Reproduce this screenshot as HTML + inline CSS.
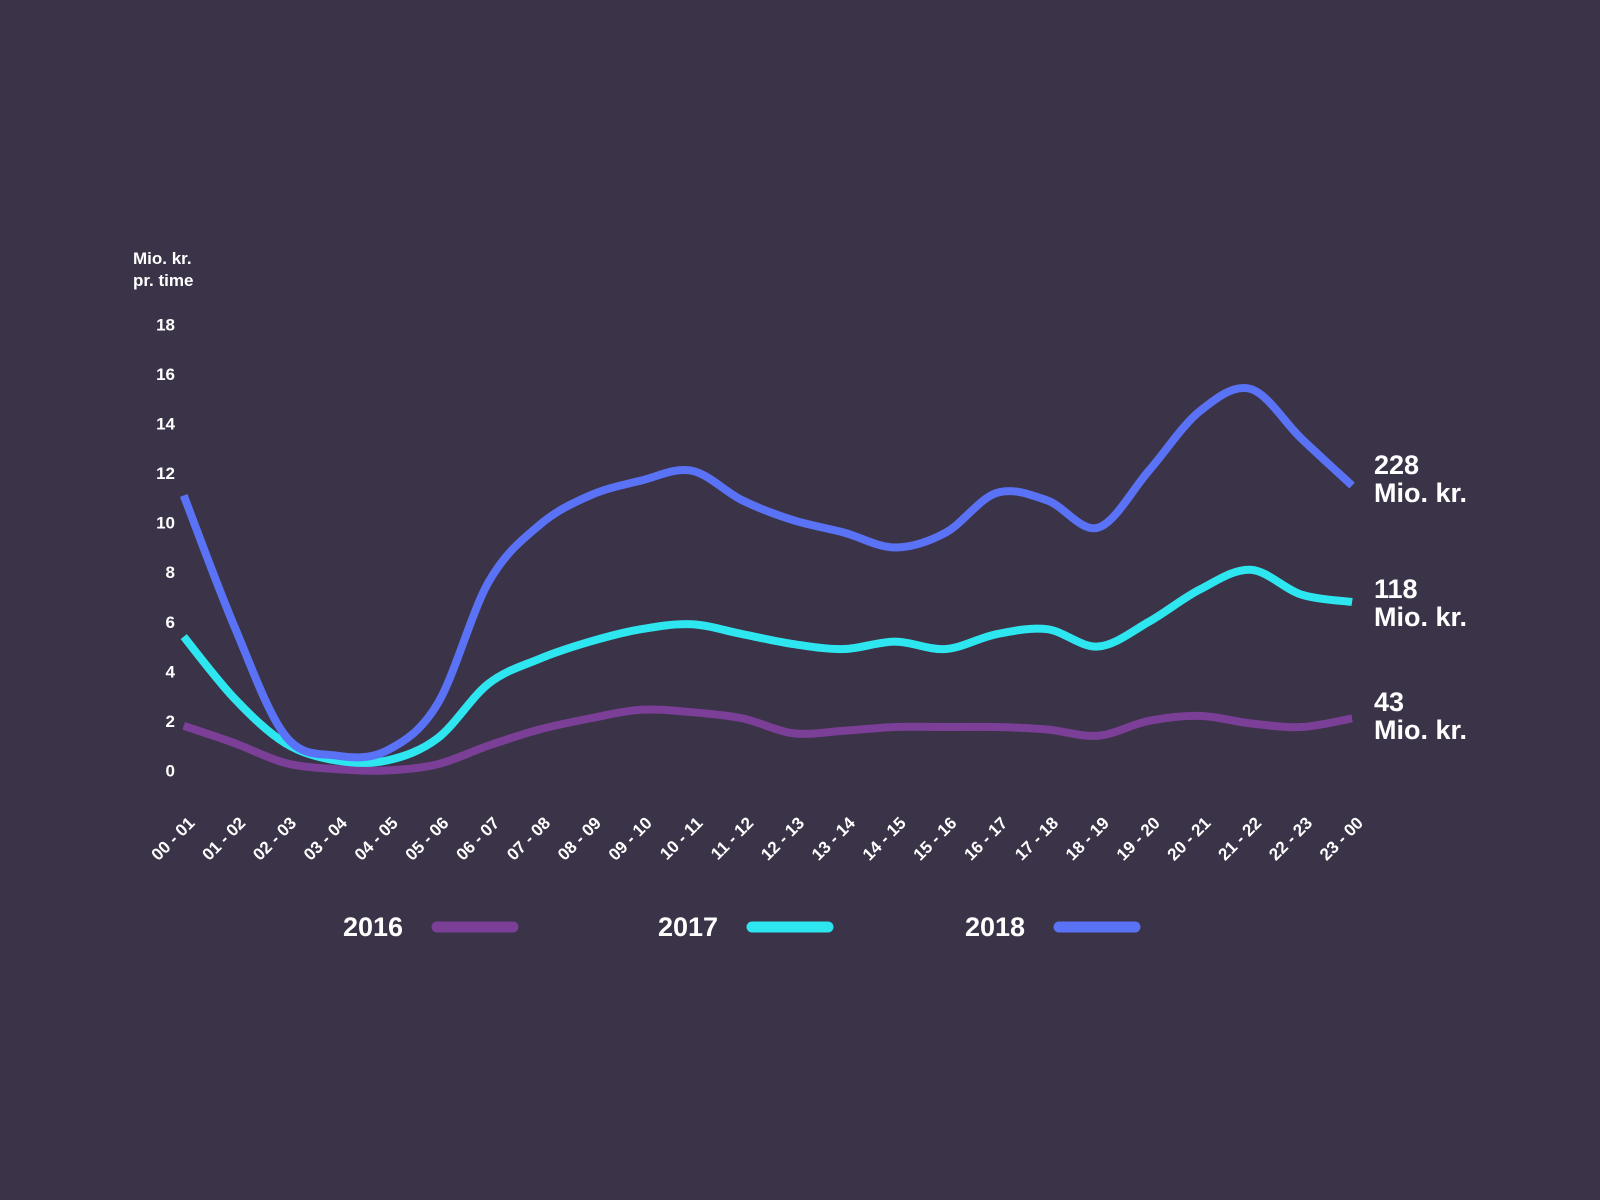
<!DOCTYPE html>
<html><head><meta charset="utf-8"><style>
html,body{margin:0;padding:0;background:#3b3347;}
svg{display:block;font-family:"Liberation Sans",sans-serif;}
</style></head><body>
<svg id="chart" width="1600" height="1200" viewBox="0 0 1600 1200">
<rect width="1600" height="1200" fill="#3b3347"/>
<g id="yaxis"></g>
<g id="xaxis"></g>
<g id="lines"></g>
<text x="133" y="264" fill="#fff" font-size="17" font-weight="bold"><tspan x="133">Mio. kr.</tspan><tspan x="133" dy="22">pr. time</tspan></text>
<g fill="#fff" font-weight="bold" font-size="27">
<text x="1374" y="474">228</text>
<text x="1374" y="502">Mio. kr.</text>
<text x="1374" y="598">118</text>
<text x="1374" y="626">Mio. kr.</text>
<text x="1374" y="711">43</text>
<text x="1374" y="739">Mio. kr.</text>
</g>
<g font-size="27" font-weight="bold" fill="#fff">
<g><text x="343" y="936">2016</text><line x1="437" y1="927" x2="513" y2="927" stroke="#7b3f98" stroke-width="11" stroke-linecap="round"/></g>
<g><text x="658" y="936">2017</text><line x1="752" y1="927" x2="828" y2="927" stroke="#2ee6f0" stroke-width="11" stroke-linecap="round"/></g>
<g><text x="965" y="936">2018</text><line x1="1059" y1="927" x2="1135" y2="927" stroke="#5a72f5" stroke-width="11" stroke-linecap="round"/></g>
</g>
</svg>
<script>
const categories=["00-01","01-02","02-03","03-04","04-05","05-06","06-07","07-08","08-09","09-10","10-11","11-12","12-13","13-14","14-15","15-16","16-17","17-18","18-19","19-20","20-21","21-22","22-23","23-00"];
const yTicks=[0,2,4,6,8,10,12,14,16,18];
const s2016=[1.8,1.1,0.3,0.05,0.0,0.25,1.0,1.65,2.1,2.45,2.35,2.1,1.5,1.6,1.75,1.75,1.75,1.65,1.4,2.0,2.2,1.9,1.75,2.1];
const s2017=[5.4,2.9,1.1,0.4,0.4,1.3,3.5,4.5,5.2,5.7,5.9,5.5,5.1,4.9,5.2,4.9,5.5,5.7,5.0,6.0,7.3,8.1,7.1,6.8];
const s2018=[11.1,5.8,1.4,0.6,0.8,2.7,7.6,9.9,11.1,11.7,12.1,10.9,10.1,9.6,9.0,9.6,11.2,10.9,9.8,12.1,14.5,15.4,13.4,11.5];
const NS="http://www.w3.org/2000/svg";
const X=i=>183.7+i*50.8;
const Y=v=>770.4-v*24.77;
const ya=document.getElementById('yaxis');
yTicks.forEach(t=>{
 const el=document.createElementNS(NS,'text');
 
 
 el.setAttribute('x',175);el.setAttribute('y',Y(t)+6);
 el.setAttribute('text-anchor','end');el.setAttribute('fill','#fff');
 el.setAttribute('font-size','17');el.setAttribute('font-weight','bold');
 el.textContent=t;ya.appendChild(el);
});
const xa=document.getElementById('xaxis');
categories.forEach((c,i)=>{
 const el=document.createElementNS(NS,'text');
 
 
 const x=X(i)+12,y=824;
 el.setAttribute('x',x);el.setAttribute('y',y);
 el.setAttribute('text-anchor','end');el.setAttribute('fill','#fff');
 el.setAttribute('font-size','17');el.setAttribute('font-weight','bold');
 el.setAttribute('transform','rotate(-45 '+x+' '+y+')');
 el.textContent=c.replace('-',' - ');xa.appendChild(el);
});
function path(vals){
 const p=vals.map((v,i)=>[X(i),Y(v)]);
 let d='M'+p[0][0]+','+p[0][1];
 for(let i=0;i<p.length-1;i++){
  const p0=p[i-1]||p[i],p1=p[i],p2=p[i+1],p3=p[i+2]||p2;
  const c1=[p1[0]+(p2[0]-p0[0])/6,p1[1]+(p2[1]-p0[1])/6];
  const c2=[p2[0]-(p3[0]-p1[0])/6,p2[1]-(p3[1]-p1[1])/6];
  d+=' C'+c1+' '+c2+' '+p2;
 }
 return d;
}
const lg=document.getElementById('lines');
[[s2016,'#7b3f98','line-2016'],[s2017,'#2ee6f0','line-2017'],[s2018,'#5a72f5','line-2018']].forEach(([s,c,n])=>{
 const el=document.createElementNS(NS,'path');
 
 
 el.setAttribute('d',path(s));el.setAttribute('fill','none');
 el.setAttribute('stroke',c);el.setAttribute('stroke-width','8');
 lg.appendChild(el);
});
</script>
</body></html>
